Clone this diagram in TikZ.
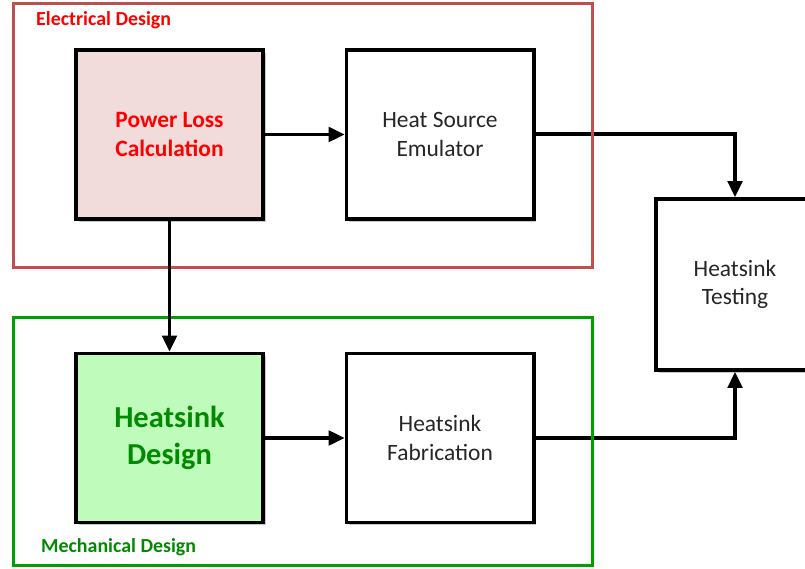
\documentclass[tikz,border=0pt]{standalone}
\usepackage{fontspec}
\setmainfont{Carlito}
\usetikzlibrary{arrows.meta,shadows,positioning}
\definecolor{cElec}{HTML}{C0504D}
\definecolor{cElecTxt}{HTML}{FF0000}
\definecolor{cElecFill}{HTML}{F2DCDB}
\definecolor{cMech}{HTML}{00A000}
\definecolor{cMechTxt}{HTML}{008A00}
\definecolor{cMechFill}{HTML}{BFFCBB}
\tikzset{
  blk/.style={rectangle,draw=black,line width=3.4pt,fill=white,align=center,
    font=\fontsize{20}{24.5}\selectfont,text=black!85,inner sep=2pt,
    minimum width=5.61cm,minimum height=5.07cm,
    drop shadow={shadow xshift=2.5pt,shadow yshift=-2.5pt,opacity=.35,fill=black!60}},
  frame/.style={line width=2.6pt},
  grp/.style={font=\bfseries\fontsize{17}{20}\selectfont,anchor=west,inner sep=0pt},
  arr/.style={-{Triangle[length=13.5pt,width=12.5pt]},line width=2.6pt,black},
}
\begin{document}
\begin{tikzpicture}[x=0.03cm,y=-0.03cm]
  \clip (0,0) rectangle (805,569);
  \useasboundingbox (0,0) rectangle (805,569);
  % blocks
  \node[blk,fill=cElecFill,text=cElecTxt,font=\bfseries\fontsize{20}{24.5}\selectfont] (loss) at (169.5,134.5) {Power Loss\\Calculation};
  \node[blk] (emul) at (440,134.5) {Heat Source\\Emulator};
  \node[blk,fill=cMechFill,text=cMechTxt,font=\bfseries\fontsize{26}{31.5}\selectfont] (sink) at (169.5,438) {Heatsink\\Design};
  \node[blk] (fab) at (440,438) {Heatsink\\Fabrication};
  \node[blk,minimum width=4.74cm,minimum height=5.13cm] (test) at (735,284.5) {Heatsink\\Testing};
  % long connectors to testing
  \draw[arr] (emul.east |- 0,134) -| (test.north);
  \draw[arr] (fab.east |- 0,438) -| (test.south);
  % design domains
  \draw[frame,cElec] (13.5,3.5) rectangle (592.5,267.5);
  \draw[frame,cMech] (13.5,317.5) rectangle (592.5,565.5);
  \node[grp,text=cElecTxt] (elec) at (36,20) {Electrical Design};
  \node[grp,text=cMechTxt] (mech) at (41,547) {Mechanical Design};
  % short connectors
  \draw[arr] (loss) -- (emul);
  \draw[arr] (sink) -- (fab);
  \draw[arr] (loss) -- (sink);
\end{tikzpicture}
\end{document}
